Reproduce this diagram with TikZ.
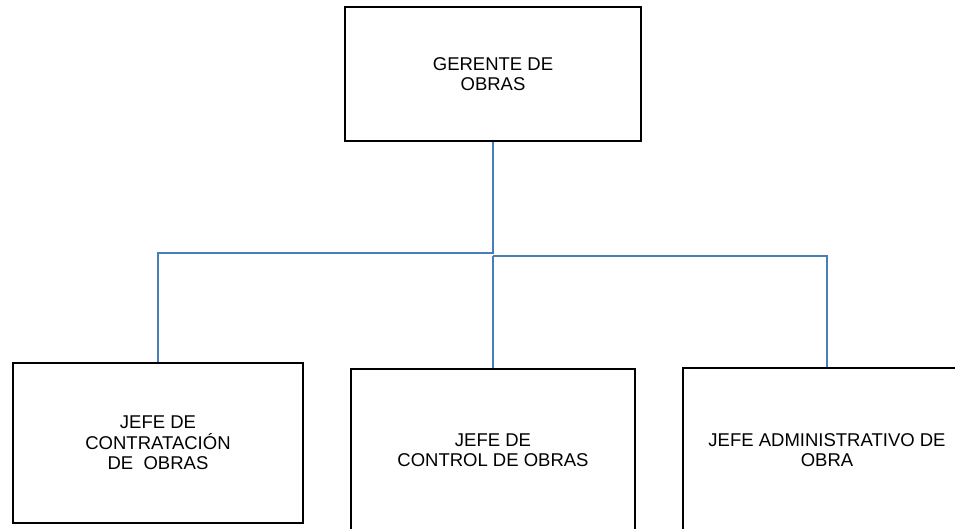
\documentclass[tikz,border=0pt]{standalone}
\usepackage{fontspec}
\setmainfont{Liberation Sans}
\definecolor{azul}{HTML}{4A7EBB}

\begin{document}
\begin{tikzpicture}[x=1pt,y=-1pt, % 1 pt por pixel, eje y hacia abajo
  caja/.style={draw=black, line width=1.6pt, align=center, inner sep=0pt,
    font=\fontsize{18.5}{20.5}\selectfont},
  linea/.style={draw=azul, line width=1.5pt}]
\clip (0,0) rectangle (955,528);
% Cargo superior
\node[caja, minimum width=296pt, minimum height=134pt] (gerente) at (493,74) {GERENTE DE\\OBRAS};
% Jefaturas (abajo)
\node[caja, minimum width=290pt, minimum height=160pt] (contratacion) at (158,443) {JEFE DE\\CONTRATACIÓN\\DE\ \ OBRAS};
\node[caja, minimum width=284pt, minimum height=162pt] (control) at (493,450) {JEFE DE\\CONTROL DE OBRAS};
\node[caja, minimum width=288pt, minimum height=164pt] (admin) at (827,450) {JEFE ADMINISTRATIVO DE\\OBRA};
% Puntos de bifurcacion
\coordinate (ramaizq) at (493,253);
\coordinate (ramader) at (493,256);
% Conectores
\draw[linea] (gerente.south) -- (ramaizq) -| (contratacion.north);
\draw[linea] (ramader) -- (control.north);
\draw[linea] (ramader) -| (admin.north);
\end{tikzpicture}
\end{document}
